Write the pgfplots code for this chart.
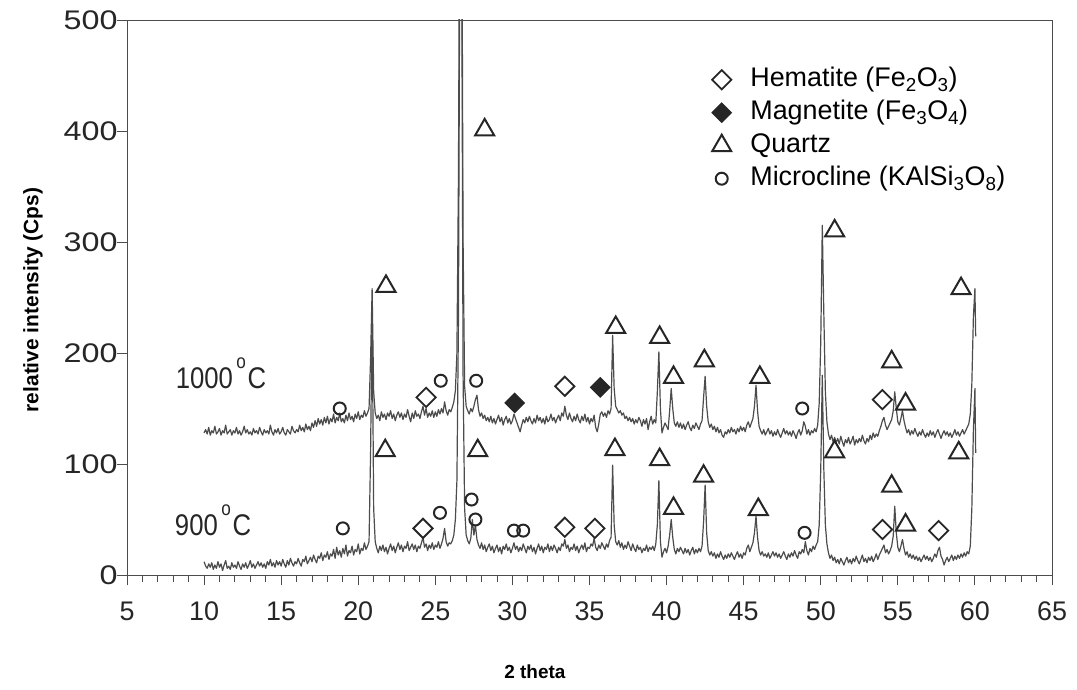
\documentclass[border=0pt]{standalone}
\usepackage{fontspec}
\setmainfont{Liberation Sans}
\usepackage{graphicx}
\usepackage{pgfplots}
\pgfplotsset{compat=1.18}
\usepackage{pgfplotstable}

% XRD scans: 2theta, intensity at 900 C (lo), intensity at 1000 C (hi)
\pgfplotstableread[row sep=\\]{
tt lo hi\\
10.0 12 128\\ 10.1 8 131\\ 10.2 6 127\\ 10.3 10 133\\ 10.4 7 126\\ 10.5 11 130\\ 10.6 5 128\\ 10.7 9 134\\ 10.8 6 127\\ 10.9 12 129\\
11.0 7 132\\ 11.1 10 126\\ 11.2 4 130\\ 11.3 9 128\\ 11.4 13 135\\ 11.5 6 127\\ 11.6 8 129\\ 11.7 5 131\\ 11.8 11 126\\ 11.9 7 130\\
12.0 9 128\\ 12.1 6 133\\ 12.2 12 127\\ 12.3 8 130\\ 12.4 5 126\\ 12.5 10 129\\ 12.6 7 134\\ 12.7 11 128\\ 12.8 6 131\\ 12.9 9 127\\
13.0 13 129\\ 13.1 7 126\\ 13.2 10 132\\ 13.3 6 128\\ 13.4 9 130\\ 13.5 12 127\\ 13.6 8 133\\ 13.7 11 129\\ 13.8 7 126\\ 13.9 10 131\\
14.0 6 128\\ 14.1 12 130\\ 14.2 9 127\\ 14.3 14 135\\ 14.4 8 129\\ 14.5 11 126\\ 14.6 7 131\\ 14.7 13 128\\ 14.8 9 132\\ 14.9 12 127\\
15.0 8 129\\ 15.1 14 133\\ 15.2 10 128\\ 15.3 7 126\\ 15.4 13 131\\ 15.5 9 129\\ 15.6 15 127\\ 15.7 11 134\\ 15.8 8 130\\ 15.9 12 128\\
16.0 10 131\\ 16.1 15 129\\ 16.2 11 135\\ 16.3 8 130\\ 16.4 14 133\\ 16.5 12 129\\ 16.6 17 136\\ 16.7 10 131\\ 16.8 13 134\\ 16.9 16 130\\
17.0 12 137\\ 17.1 18 133\\ 17.2 14 139\\ 17.3 11 134\\ 17.4 17 141\\ 17.5 15 136\\ 17.6 20 140\\ 17.7 13 135\\ 17.8 18 142\\ 17.9 16 137\\
18.0 21 143\\ 18.1 14 136\\ 18.2 19 141\\ 18.3 17 138\\ 18.4 23 145\\ 18.5 15 137\\ 18.6 25 142\\ 18.7 18 139\\ 18.8 22 146\\ 18.9 16 138\\
19.0 24 141\\ 19.1 19 137\\ 19.2 27 144\\ 19.3 17 139\\ 19.4 22 146\\ 19.5 20 140\\ 19.6 26 143\\ 19.7 18 138\\ 19.8 23 145\\ 19.9 21 141\\
20.0 28 147\\ 20.1 19 140\\ 20.2 24 144\\ 20.3 22 142\\ 20.4 29 148\\ 20.5 23 143\\ 20.6 26 146\\ 20.7 30 150\\ 20.8 110 195\\ 20.9 240 258\\
21.0 60 165\\ 21.1 30 146\\ 21.2 24 141\\ 21.3 20 144\\ 21.4 26 139\\ 21.5 22 147\\ 21.6 27 142\\ 21.7 21 145\\ 21.8 25 140\\ 21.9 19 146\\
22.0 24 143\\ 22.1 28 148\\ 22.2 22 141\\ 22.3 26 145\\ 22.4 20 139\\ 22.5 25 144\\ 22.6 29 147\\ 22.7 23 142\\ 22.8 27 146\\ 22.9 21 140\\
23.0 26 145\\ 23.1 24 142\\ 23.2 30 149\\ 23.3 22 143\\ 23.4 25 138\\ 23.5 28 146\\ 23.6 23 141\\ 23.7 27 148\\ 23.8 21 143\\ 23.9 26 145\\
24.0 24 141\\ 24.1 29 147\\ 24.2 34 152\\ 24.3 25 144\\ 24.4 28 150\\ 24.5 22 142\\ 24.6 27 146\\ 24.7 24 143\\ 24.8 29 148\\ 24.9 23 142\\
25.0 27 147\\ 25.1 25 143\\ 25.2 30 149\\ 25.3 24 145\\ 25.4 28 150\\ 25.5 33 146\\ 25.6 42 156\\ 25.7 30 148\\ 25.8 26 144\\ 25.9 29 149\\
26.0 28 147\\ 26.1 31 151\\ 26.2 36 156\\ 26.3 50 166\\ 26.4 85 200\\ 26.5 230 360\\ 26.6 620 700\\ 26.7 600 680\\ 26.8 180 300\\ 26.9 60 170\\
27.0 36 152\\ 27.1 31 148\\ 27.2 28 145\\ 27.3 33 150\\ 27.4 50 147\\ 27.5 36 152\\ 27.6 45 158\\ 27.7 32 162\\ 27.8 27 149\\ 27.9 24 143\\
28.0 29 146\\ 28.1 23 141\\ 28.2 27 144\\ 28.3 21 139\\ 28.4 25 142\\ 28.5 28 138\\ 28.6 22 143\\ 28.7 26 137\\ 28.8 20 141\\ 28.9 24 136\\
29.0 27 140\\ 29.1 21 144\\ 29.2 25 138\\ 29.3 19 142\\ 29.4 26 135\\ 29.5 23 140\\ 29.6 28 143\\ 29.7 22 137\\ 29.8 25 141\\ 29.9 20 136\\
30.0 24 139\\ 30.1 29 145\\ 30.2 23 141\\ 30.3 26 137\\ 30.4 21 133\\ 30.5 25 129\\ 30.6 22 135\\ 30.7 28 140\\ 30.8 24 137\\ 30.9 20 142\\
31.0 26 138\\ 31.1 23 143\\ 31.2 27 139\\ 31.3 21 136\\ 31.4 25 141\\ 31.5 19 137\\ 31.6 24 144\\ 31.7 28 139\\ 31.8 22 142\\ 31.9 26 137\\
32.0 20 141\\ 32.1 25 136\\ 32.2 23 143\\ 32.3 28 138\\ 32.4 21 140\\ 32.5 26 145\\ 32.6 22 139\\ 32.7 27 142\\ 32.8 24 137\\ 32.9 20 141\\
33.0 25 144\\ 33.1 22 139\\ 33.2 28 146\\ 33.3 26 143\\ 33.4 32 152\\ 33.5 24 144\\ 33.6 27 140\\ 33.7 21 146\\ 33.8 25 141\\ 33.9 23 138\\
34.0 28 143\\ 34.1 22 139\\ 34.2 26 145\\ 34.3 20 140\\ 34.4 24 137\\ 34.5 27 143\\ 34.6 23 139\\ 34.7 29 145\\ 34.8 21 138\\ 34.9 25 142\\
35.0 24 136\\ 35.1 28 141\\ 35.2 26 138\\ 35.3 33 144\\ 35.4 25 133\\ 35.5 22 129\\ 35.6 27 136\\ 35.7 24 145\\ 35.8 29 147\\ 35.9 26 143\\
36.0 23 146\\ 36.1 28 142\\ 36.2 25 148\\ 36.3 31 145\\ 36.4 34 150\\ 36.5 99 216\\ 36.6 45 168\\ 36.7 30 152\\ 36.8 27 149\\ 36.9 31 146\\
37.0 25 148\\ 37.1 29 144\\ 37.2 23 146\\ 37.3 27 141\\ 37.4 24 143\\ 37.5 30 139\\ 37.6 26 142\\ 37.7 22 138\\ 37.8 28 141\\ 37.9 24 136\\
38.0 21 140\\ 38.1 27 137\\ 38.2 23 142\\ 38.3 25 139\\ 38.4 20 134\\ 38.5 24 140\\ 38.6 22 136\\ 38.7 27 141\\ 38.8 21 131\\ 38.9 25 138\\
39.0 23 143\\ 39.1 26 136\\ 39.2 22 140\\ 39.3 28 137\\ 39.4 45 165\\ 39.5 85 201\\ 39.6 30 150\\ 39.7 16 128\\ 39.8 21 133\\ 39.9 24 137\\
40.0 20 134\\ 40.1 26 131\\ 40.2 36 148\\ 40.3 50 168\\ 40.4 34 150\\ 40.5 23 137\\ 40.6 19 134\\ 40.7 24 138\\ 40.8 21 133\\ 40.9 25 137\\
41.0 22 132\\ 41.1 19 136\\ 41.2 24 131\\ 41.3 20 135\\ 41.4 23 138\\ 41.5 18 133\\ 41.6 22 130\\ 41.7 25 135\\ 41.8 19 132\\ 41.9 23 137\\
42.0 20 134\\ 42.1 24 131\\ 42.2 21 136\\ 42.3 26 139\\ 42.4 48 160\\ 42.5 81 179\\ 42.6 38 152\\ 42.7 22 138\\ 42.8 18 133\\ 42.9 21 136\\
43.0 17 131\\ 43.1 20 134\\ 43.2 15 129\\ 43.3 19 133\\ 43.4 16 128\\ 43.5 21 131\\ 43.6 17 126\\ 43.7 14 124\\ 43.8 18 129\\ 43.9 15 127\\
44.0 19 131\\ 44.1 16 128\\ 44.2 20 133\\ 44.3 17 129\\ 44.4 14 131\\ 44.5 18 127\\ 44.6 21 132\\ 44.7 16 129\\ 44.8 19 134\\ 44.9 15 130\\
45.0 20 133\\ 45.1 18 129\\ 45.2 24 135\\ 45.3 27 138\\ 45.4 21 133\\ 45.5 25 137\\ 45.6 29 141\\ 45.7 38 152\\ 45.8 53 171\\ 45.9 34 148\\
46.0 22 134\\ 46.1 18 130\\ 46.2 21 127\\ 46.3 17 131\\ 46.4 19 126\\ 46.5 16 129\\ 46.6 20 132\\ 46.7 15 127\\ 46.8 18 130\\ 46.9 21 125\\
47.0 17 129\\ 47.1 20 126\\ 47.2 16 131\\ 47.3 19 127\\ 47.4 15 124\\ 47.5 18 128\\ 47.6 21 132\\ 47.7 17 127\\ 47.8 14 130\\ 47.9 19 126\\
48.0 16 129\\ 48.1 20 125\\ 48.2 17 130\\ 48.3 22 127\\ 48.4 18 123\\ 48.5 15 128\\ 48.6 21 131\\ 48.7 19 126\\ 48.8 23 130\\ 48.9 20 138\\
49.0 30 134\\ 49.1 22 127\\ 49.2 18 131\\ 49.3 24 126\\ 49.4 21 130\\ 49.5 26 128\\ 49.6 23 132\\ 49.7 27 129\\ 49.8 30 135\\ 49.9 45 155\\
50.0 95 210\\ 50.1 180 315\\ 50.2 95 235\\ 50.3 45 165\\ 50.4 28 138\\ 50.5 20 127\\ 50.6 15 122\\ 50.7 18 126\\ 50.8 13 120\\ 50.9 16 124\\
51.0 11 119\\ 51.1 14 123\\ 51.2 10 118\\ 51.3 15 125\\ 51.4 12 120\\ 51.5 9 116\\ 51.6 13 122\\ 51.7 16 119\\ 51.8 11 124\\ 51.9 14 118\\
52.0 10 121\\ 52.1 15 125\\ 52.2 12 117\\ 52.3 17 122\\ 52.4 13 119\\ 52.5 10 123\\ 52.6 14 120\\ 52.7 18 126\\ 52.8 12 121\\ 52.9 15 118\\
53.0 11 123\\ 53.1 16 120\\ 53.2 13 126\\ 53.3 17 122\\ 53.4 12 128\\ 53.5 15 124\\ 53.6 19 127\\ 53.7 14 125\\ 53.8 18 130\\ 53.9 21 134\\
54.0 24 139\\ 54.1 27 142\\ 54.2 20 135\\ 54.3 23 131\\ 54.4 19 134\\ 54.5 22 137\\ 54.6 26 140\\ 54.7 35 148\\ 54.8 62 165\\ 54.9 38 150\\
55.0 25 138\\ 55.1 21 135\\ 55.2 26 141\\ 55.3 32 148\\ 55.4 24 139\\ 55.5 18 133\\ 55.6 21 128\\ 55.7 16 131\\ 55.8 19 126\\ 55.9 15 130\\
56.0 18 127\\ 56.1 14 132\\ 56.2 17 128\\ 56.3 13 125\\ 56.4 16 129\\ 56.5 12 126\\ 56.6 15 131\\ 56.7 18 127\\ 56.8 14 124\\ 56.9 17 128\\
57.0 13 125\\ 57.1 16 130\\ 57.2 12 126\\ 57.3 15 129\\ 57.4 19 124\\ 57.5 16 128\\ 57.6 22 131\\ 57.7 25 127\\ 57.8 17 123\\ 57.9 14 127\\
58.0 9 130\\ 58.1 13 126\\ 58.2 16 129\\ 58.3 12 125\\ 58.4 15 128\\ 58.5 18 124\\ 58.6 13 127\\ 58.7 17 131\\ 58.8 14 126\\ 58.9 18 129\\
59.0 15 125\\ 59.1 19 128\\ 59.2 16 131\\ 59.3 20 127\\ 59.4 17 130\\ 59.5 21 133\\ 59.6 19 136\\ 59.7 26 145\\ 59.8 60 172\\ 59.9 130 232\\
60.0 168 258\\ 60.05 110 215\\
}\xrd

\begin{document}
\begin{tikzpicture}
\path[use as bounding box] (0,0) rectangle (1077bp,690bp);
\begin{axis}[
  at={(127bp,115bp)}, anchor=south west,
  scale only axis, width=925bp, height=555bp,
  xmin=5, xmax=65, ymin=0, ymax=500,
  xtick={5,10,...,65}, ytick={0,100,...,500},
  minor x tick num=4,
  tick pos=left, tick align=outside,
  major tick length=10bp, minor tick length=7bp,
  axis line style={black!70, line width=0.9bp},
  tick style={black!70, line width=0.9bp},
  /pgf/number format/assume math mode=true,
  ticklabel style={font=\fontsize{27}{27}\selectfont, text=black!85},
  xticklabel style={yshift=-13bp},
  yticklabel style={xshift=4bp},
  yticklabel={\scalebox{1.2}[1]{\pgfmathprintnumber{\tick}}},
  xlabel={2 theta},
  xlabel style={at={(rel axis cs:0.441,-0.175)}, anchor=center,
    font=\bfseries\fontsize{19}{19}\selectfont},
  ylabel={relative intensity (Cps)},
  ylabel style={at={(rel axis cs:-0.1016,0.4955)}, anchor=center,
    font=\bfseries\fontsize{21}{21}\selectfont},
  legend style={at={(axis cs:42.94,460.8)}, anchor=north west,
    draw=none, fill=none, inner sep=0pt, row sep=1bp, column sep=16bp,
    font=\fontsize{27}{27}\selectfont,
    nodes={inner sep=3bp, text height=20bp, text depth=6bp}},
  legend cell align=left,
]
% diffraction patterns
\addplot[black!70, line width=1.2bp, line join=round, forget plot]
  table[x=tt, y=lo] {\xrd};
\addplot[black!70, line width=1.2bp, line join=round, forget plot]
  table[x=tt, y=hi] {\xrd};

% phase identification marks
\addplot[only marks, mark=square, mark size=6.8bp,
  mark options={rotate=45, line width=1.8bp, draw=black!85}]
  coordinates {(24.4,160) (33.4,170) (54.0,158)
               (24.2,42) (33.4,43) (35.35,42) (54.0,41) (57.65,40)};
\addlegendentry{Hematite (Fe\textsubscript{2}O\textsubscript{3})}
\addplot[only marks, mark=square*, mark size=6.8bp,
  mark options={rotate=45, line width=1.2bp, draw=black!85, fill=black!85}]
  coordinates {(30.15,155) (35.7,169)};
\addlegendentry{Magnetite (Fe\textsubscript{3}O\textsubscript{4})}
\addplot[only marks, mark=triangle, mark size=11bp,
  mark options={line width=2bp, draw=black!85}]
  coordinates {(21.8,260) (28.2,401) (36.7,223) (39.55,214) (40.45,178)
               (42.45,193) (46.05,178) (50.9,310) (54.6,192) (55.5,154) (59.1,258)
               (21.75,112) (27.75,112) (36.65,113) (39.55,104) (40.45,60)
               (42.4,89) (45.95,59) (50.9,111) (54.6,80) (55.5,45) (58.95,110)};
\addlegendentry{Quartz}
\addplot[only marks, mark=o, mark size=6bp,
  mark options={line width=2bp, draw=black!85}]
  coordinates {(18.8,150) (25.35,175) (27.65,175) (48.8,150)
               (19.0,42) (25.3,56) (27.35,68) (27.6,50) (30.1,40) (30.7,40) (48.95,38)};
\addlegendentry{Microcline (KAlSi\textsubscript{3}O\textsubscript{8})}

% temperature labels
\node[anchor=base west, inner sep=0pt, text=black!85] at (axis cs:8.15,168)
  {\scalebox{0.86}[1]{\fontsize{30}{30}\selectfont 1000\hspace{4bp}\raisebox{20bp}{\fontsize{20}{20}\selectfont o}\hspace{2bp}C}};
\node[anchor=base west, inner sep=0pt, text=black!85] at (axis cs:8.1,36)
  {\scalebox{0.86}[1]{\fontsize{30}{30}\selectfont 900\hspace{4bp}\raisebox{20bp}{\fontsize{20}{20}\selectfont o}\hspace{2bp}C}};
\end{axis}
\end{tikzpicture}
\end{document}
